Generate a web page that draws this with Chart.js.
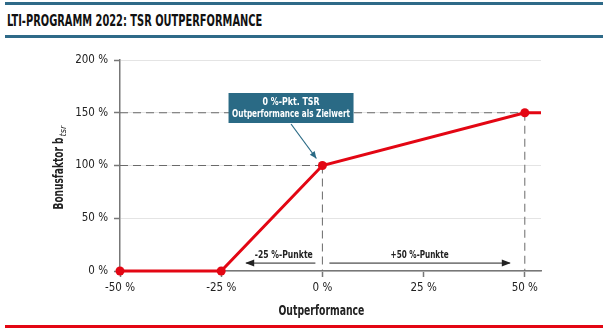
<!DOCTYPE html>
<html>
<head>
<meta charset="utf-8">
<script src="https://cdn.jsdelivr.net/npm/chart.js@4"></script>
<style>
  html, body { margin: 0; padding: 0; background: #fff; }
  #wrap { position: relative; width: 607px; height: 333px; overflow: hidden; }
  .rule { position: absolute; left: 5px; width: 598px; }
  #title { position: absolute; left: 7px; top: 11px; font: bold 16px "Liberation Sans Narrow", "DejaVu Sans Condensed", sans-serif; color: #111; white-space: nowrap; transform: scaleX(0.685); transform-origin: 0 0; }
  canvas { position: absolute; left: 0; top: 0; }
</style>
</head>
<body>
<div id="wrap">
  <div class="rule" style="top:2px;height:3px;background:#2e6a88"></div>
  <div id="title">LTI-PROGRAMM 2022: TSR OUTPERFORMANCE</div>
  <div class="rule" style="top:35px;height:3px;background:#2e6a88"></div>
  <div class="rule" style="top:325px;height:3px;background:#e30613"></div>
  <canvas id="chart" width="607" height="333"></canvas>
</div>
<script>
const FONT = '"Liberation Sans Narrow", "DejaVu Sans Condensed", sans-serif';

// data
const outperf = [-50, -25, 0, 50, 54];
const bonus = [0, 0, 100, 150, 150];
const pointSizes = [4.5, 4.5, 4.5, 4.5, 0];
const xTicks = [-50, -25, 0, 25, 50];
const yTicks = [0, 50, 100, 150, 200];

// annotation texts
const noteLines = ["0 %-Pkt. TSR", "Outperformance als Zielwert"];
const leftSpan = { from: 0, to: -25, label: "-25 %-Punkte", inset: 25 };
const rightSpan = { from: 0, to: 50, label: "+50 %-Punkte", inset: 15 };

const red = "#e30613";
const teal = "#2a6a85";

const extras = {
  id: "extras",
  beforeDatasetsDraw(chart) {
    const { ctx, scales: { x, y } } = chart;
    ctx.save();
    // dashed guide lines
    ctx.strokeStyle = "#6a6a6a";
    ctx.lineWidth = 1;
    ctx.setLineDash([8, 5]);
    const guides = [[0, 100], [50, 150]];
    guides.forEach(([gx, gy]) => {
      ctx.beginPath();
      ctx.moveTo(x.left, y.getPixelForValue(gy));
      ctx.lineTo(x.getPixelForValue(gx), y.getPixelForValue(gy));
      ctx.moveTo(x.getPixelForValue(gx), y.getPixelForValue(gy));
      ctx.lineTo(x.getPixelForValue(gx), y.bottom);
      ctx.stroke();
    });
    ctx.restore();
  },
  afterDraw(chart) {
    const { ctx, scales: { x, y } } = chart;
    ctx.save();

    // x axis title
    ctx.fillStyle = "#222";
    ctx.font = "bold 14px " + FONT;
    ctx.textAlign = "center";
    ctx.textBaseline = "middle";
    ctx.fillText("Outperformance", (x.getPixelForValue(-25) + x.getPixelForValue(25)) / 2 - 1, x.bottom + 17, 86);

    // y axis title with subscript
    ctx.translate(58, y.getPixelForValue(100) + 2);
    ctx.rotate(-Math.PI / 2);
    ctx.textBaseline = "alphabetic";
    ctx.textAlign = "left";
    const main = "Bonusfaktor b";
    const mainW = 72, subW = 12;
    const start = -(mainW + subW) / 2;
    ctx.font = "bold 14px " + FONT;
    ctx.fillText(main, start, 5, mainW);
    ctx.font = "italic 9px " + FONT;
    ctx.fillText("tsr", start + mainW + 1, 8, subW);
    ctx.restore();

    // span arrows
    ctx.save();
    const ay = y.getPixelForValue(7.5);
    ctx.strokeStyle = "#222";
    ctx.fillStyle = "#222";
    ctx.lineWidth = 1;
    [[leftSpan, -1], [rightSpan, 1]].forEach(([s, dir]) => {
      const x0 = x.getPixelForValue(s.from) + dir * 7;
      const x1 = x.getPixelForValue(s.to) - dir * s.inset;
      ctx.beginPath();
      ctx.moveTo(x0, ay);
      ctx.lineTo(x1, ay);
      ctx.stroke();
      ctx.beginPath();
      ctx.moveTo(x1 + dir * 1, ay);
      ctx.lineTo(x1 - dir * 8, ay - 3.5);
      ctx.lineTo(x1 - dir * 8, ay + 3.5);
      ctx.closePath();
      ctx.fill();
      ctx.font = "bold 11px " + FONT;
      ctx.textAlign = "center";
      ctx.textBaseline = "middle";
      ctx.fillText(s.label, (x0 + x1) / 2 + (dir < 0 ? 3 : 0), ay - 8, 58);
    });
    ctx.restore();

    // note box
    ctx.save();
    const cx = x.getPixelForValue(-7.75);
    const cy = y.getPixelForValue(154.5);
    const bw = 125, bh = 30;
    ctx.fillStyle = teal;
    ctx.fillRect(cx - bw / 2, cy - bh / 2, bw, bh);
    ctx.fillStyle = "#fff";
    ctx.font = "bold 11px " + FONT;
    ctx.textAlign = "center";
    ctx.textBaseline = "middle";
    ctx.fillText(noteLines[0], cx, cy - 6, 57);
    ctx.fillText(noteLines[1], cx, cy + 6, 118);
    // pointer arrow to the target point
    const tx = x.getPixelForValue(0) - 6;
    const ty = y.getPixelForValue(100) - 7;
    const sx = cx, sy = cy + bh / 2 + 1;
    ctx.strokeStyle = teal;
    ctx.fillStyle = teal;
    ctx.lineWidth = 1.2;
    ctx.beginPath();
    ctx.moveTo(sx, sy);
    ctx.lineTo(tx, ty);
    ctx.stroke();
    const ang = Math.atan2(ty - sy, tx - sx);
    ctx.beginPath();
    ctx.moveTo(tx, ty);
    ctx.lineTo(tx - 7 * Math.cos(ang) + 3 * Math.sin(ang), ty - 7 * Math.sin(ang) - 3 * Math.cos(ang));
    ctx.lineTo(tx - 7 * Math.cos(ang) - 3 * Math.sin(ang), ty - 7 * Math.sin(ang) + 3 * Math.cos(ang));
    ctx.closePath();
    ctx.fill();
    ctx.restore();
  }
};

new Chart(document.getElementById("chart").getContext("2d"), {
  type: "line",
  data: {
    datasets: [{
      data: outperf.map((v, i) => ({ x: v, y: bonus[i] })),
      borderColor: red,
      backgroundColor: red,
      borderWidth: 3,
      pointRadius: pointSizes,
      pointHoverRadius: pointSizes,
      pointBorderWidth: 0,
      tension: 0,
      clip: false
    }]
  },
  options: {
    responsive: false,
    animation: false,
    events: [],
    layout: { padding: { left: 0, top: 60, right: 66, bottom: 39 } },
    plugins: { legend: { display: false }, tooltip: { enabled: false } },
    scales: {
      x: {
        type: "linear",
        min: -50,
        max: 54,
        afterBuildTicks: s => { s.ticks = xTicks.map(v => ({ value: v })); },
        afterFit: s => { s.height = 23; },
        ticks: {
          color: "#222",
          font: { family: FONT, size: 11.5 },
          padding: 4,
          callback: v => v + " %"
        },
        grid: { drawOnChartArea: false, tickLength: 6, tickColor: "#777", tickWidth: 1.5 },
        border: { color: "#777", width: 1.5 }
      },
      y: {
        min: 0,
        max: 200,
        afterBuildTicks: s => { s.ticks = yTicks.map(v => ({ value: v })); },
        afterFit: s => { s.width = 120; },
        ticks: {
          color: "#222",
          font: { family: FONT, size: 11.5 },
          padding: 6,
          callback: v => v + " %"
        },
        grid: { color: "#e4e4e4", lineWidth: 1, tickLength: 6, tickColor: "#777", tickWidth: 1.5 },
        border: { color: "#777", width: 1.5 }
      }
    }
  },
  plugins: [extras]
});
</script>
</body>
</html>
